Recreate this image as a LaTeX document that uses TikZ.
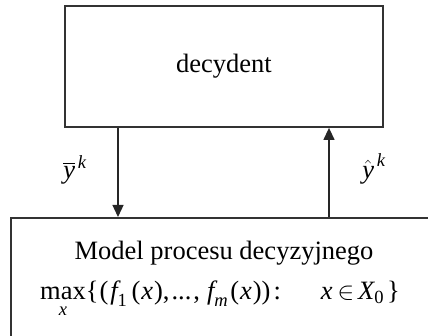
\documentclass[tikz,border=0pt]{standalone}
\usepackage{amsmath}
\usepackage{fontspec}
\setmainfont{Liberation Serif}
\usetikzlibrary{arrows.meta}
% italic letters in Times-like shapes inside formulas
\newcommand\iv[1]{\text{\itshape #1}}
\begin{document}
\begin{tikzpicture}[x=1pt,y=1pt,
  frame/.style={draw=black!80, line width=1.8pt, inner sep=0pt},
  flow/.style={draw=black!85, line width=1.3pt, -{Triangle[length=12pt,width=11pt]}},
  txt/.style={font=\fontsize{26.5}{32}\selectfont, inner sep=0pt}]
\clip (0,0) rectangle (428,336);
% decision maker
\node[frame, minimum width=318pt, minimum height=121pt] (dec) at (224,269.5) {};
\node[txt, anchor=base] (dectext) at (224,263) {decydent};
% model of the decision process (extends past the page)
\node[frame, minimum width=450pt, minimum height=140pt, anchor=north west] (model) at (10,119) {};
\node[txt, anchor=base] (modeltitle) at (224,76) {Model procesu decyzyjnego};
\node[txt, anchor=base west] (modelformula) at (40,36)
  {$\mathop{\text{max}}\limits_{\iv{x}}\!\text{\{}\kern1pt\text{(}\kern2pt\iv{f}_{\text{1}}\kern4pt\text{(}\kern1pt\iv{x}\kern1pt\text{)}\text{,}\kern2pt\text{...}\kern2pt\text{,}\kern7pt\iv{f}_{\iv{m}}\kern2pt\text{(}\kern1pt\iv{x}\kern1pt\text{))}\kern3pt\text{:}\hspace{40pt}\iv{x}\kern5pt{\in}\kern4pt\iv{X}_{\text{0}}\kern3pt\text{\}}$};
% information flows
\coordinate (dnx) at (118,0);
\coordinate (upx) at (329,0);
\draw[flow] (dec.south -| dnx) -- (model.north -| dnx);
\draw[flow] (model.north -| upx) -- (dec.south -| upx);
\node[txt, anchor=base] (ybar) at (75,157) {$\overline{\iv{y}}^{\,\iv{k}}$};
\node[txt, anchor=base] (yhat) at (374,157) {$\hat{\iv{y}}^{\,\iv{k}}$};
\end{tikzpicture}
\end{document}
